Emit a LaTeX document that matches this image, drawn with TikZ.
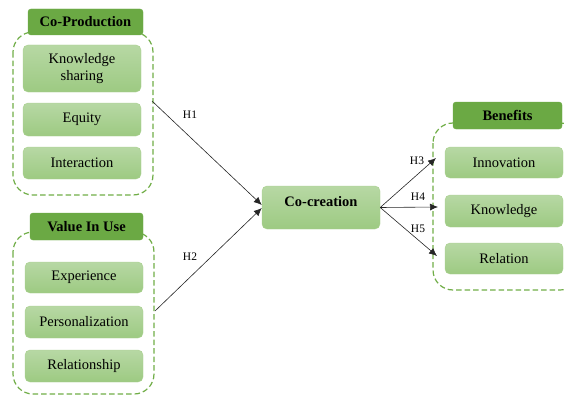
\documentclass[tikz,border=0pt]{standalone}
\usepackage{fontspec}
\setmainfont{Liberation Serif}
\usetikzlibrary{positioning}
\usetikzlibrary{arrows.meta}

\definecolor{boxtop}{HTML}{B7D8A4}
\definecolor{boxbot}{HTML}{9DCA82}
\definecolor{boxline}{HTML}{A9D08E}
\definecolor{headgreen}{HTML}{6BA944}
\definecolor{dashgreen}{HTML}{70AD47}

\begin{document}
\begin{tikzpicture}[x=1pt,y=-1pt]
\tikzstyle{item}=[draw=boxline,top color=boxtop,bottom color=boxbot,rounded corners=5pt,align=center,font=\fontsize{14.5}{17}\selectfont,inner sep=0pt]
\tikzstyle{header}=[draw=headgreen,fill=headgreen,rounded corners=3pt,font=\fontsize{14.5}{15}\selectfont\bfseries,inner sep=0pt]
\tikzstyle{group}=[draw=dashgreen,line width=1.2pt,dash pattern=on 5.5pt off 3pt,rounded corners=20pt]
\tikzstyle{link}=[draw=black!85,line width=0.6pt,-{Latex[length=8pt,width=7pt]}]
\tikzstyle{hlabel}=[font=\fontsize{11.5}{12}\selectfont]
\useasboundingbox (0,0) rectangle (564,396);
%%%%%%%%%%%%%%%%%%%%%%%%%%%%%%%%%%%%%%%%%%%%%%%%%%%%%%%%%%%%%%%%%%%%%%%%%%%%%%%%%%%%%%%%
%% Draw groups
%%%%%%%%%%%%%%%%%%%%%%%%%%%%%%%%%%%%%%%%%%%%%%%%%%%%%%%%%%%%%%%%%%%%%%%%%%%%%%%%%%%%%%%%
% co-production
\draw[group] (13,32) rectangle (153,195);
\node[header,minimum width=115,minimum height=26] (coprod) at (85.5,22) {Co-Production};
\node[item,minimum width=118,minimum height=47] (ksharing) at (82,68.5) {Knowledge\\sharing};
\node[item,minimum width=118,minimum height=33] (equity) at (82,119.5) {Equity};
\node[item,minimum width=118,minimum height=32] (interact) at (82,163) {Interaction};

% value in use
\draw[group] (13,232) rectangle (154,394);
\node[header,minimum width=113,minimum height=27] (valuse) at (86.5,226.5) {Value In Use};
\node[item,minimum width=118,minimum height=31] (experience) at (84,277.5) {Experience};
\node[item,minimum width=118,minimum height=32] (personal) at (84,322) {Personalization};
\node[item,minimum width=118,minimum height=32] (relationship) at (84,366) {Relationship};

% co-creation
\node[item,font=\fontsize{14.5}{15}\selectfont\bfseries,minimum width=118,minimum height=43] (cocreation) at (321,207.5) {};
\node[font=\fontsize{14.5}{15}\selectfont\bfseries] (cotext) at (321,202) {Co-creation};

% benefits
\draw[group] (433,123) rectangle (580,290);
\node[header,minimum width=109,minimum height=27] (benefits) at (507.5,115.5) {Benefits};
\node[item,minimum width=118,minimum height=31] (innovation) at (504,162.5) {Innovation};
\node[item,minimum width=118,minimum height=32] (knowledge) at (504,211) {Knowledge};
\node[item,minimum width=118,minimum height=31] (relation) at (504,258.5) {Relation};
%%%%%%%%%%%%%%%%%%%%%%%%%%%%%%%%%%%%%%%%%%%%%%%%%%%%%%%%%%%%%%%%%%%%%%%%%%%%%%%%%%%%%%%%

%%%%%%%%%%%%%%%%%%%%%%%%%%%%%%%%%%%%%%%%%%%%%%%%%%%%%%%%%%%%%%%%%%%%%%%%%%%%%%%%%%%%%%%%
%%% Draw connections
%%%%%%%%%%%%%%%%%%%%%%%%%%%%%%%%%%%%%%%%%%%%%%%%%%%%%%%%%%%%%%%%%%%%%%%%%%%%%%%%%%%%%%%%
\coordinate (h1start) at (152,101);
\coordinate (h2start) at (155,311);
\coordinate (h3end) at (436,158);
\coordinate (h4end) at (438,207);
\coordinate (h5end) at (437,256);
\draw[link] (h1start) -- (cocreation.west |- 0,205);
\draw[link] (h2start) -- (cocreation.west |- 0,208);
\draw[link] (cocreation.east) -- (h3end);
\draw[link] (cocreation.east) -- (h4end);
\draw[link] (cocreation.east) -- (h5end);
\node[hlabel] (lh1) at (190,115) {H1};
\node[hlabel] (lh2) at (190,257) {H2};
\node[hlabel] (lh3) at (417,161) {H3};
\node[hlabel] (lh4) at (418,197) {H4};
\node[hlabel] (lh5) at (418,229) {H5};
%%%%%%%%%%%%%%%%%%%%%%%%%%%%%%%%%%%%%%%%%%%%%%%%%%%%%%%%%%%%%%%%%%%%%%%%%%%%%%%%%%%%%%%%

\end{tikzpicture}
\end{document}
